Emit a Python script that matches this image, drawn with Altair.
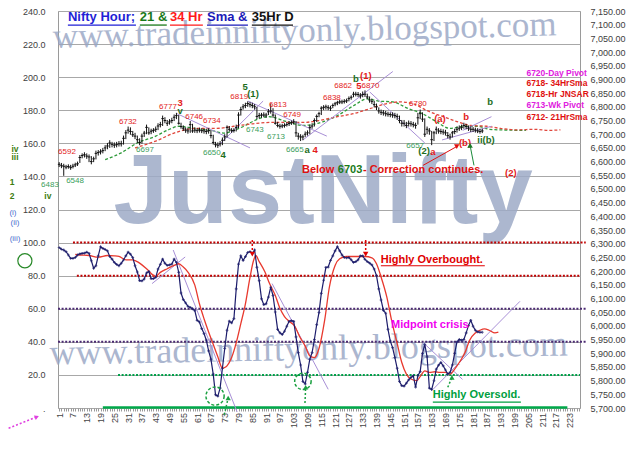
import altair as alt
import pandas as pd

# ---------------- hourly bars 1..185 (right axis) ----------------
close = [6590, 6585, 6583, 6580, 6582, 6578, 6583, 6588, 6592,
         6615, 6622, 6625, 6620, 6617, 6600, 6610,
         6630, 6633, 6636, 6640, 6650, 6657,
         6668, 6663, 6660, 6662, 6665, 6665,
         6685, 6705, 6715, 6710,
         6698, 6693, 6680, 6670,
         6693, 6704, 6725, 6705, 6711, 6714, 6718, 6730, 6735,
         6757, 6750, 6740, 6745, 6750, 6762, 6768,
         6740, 6728, 6722, 6715, 6712, 6735,
         6712, 6715, 6713, 6715, 6713, 6712, 6710, 6713, 6695,
         6670, 6662, 6660, 6665,
         6678, 6690, 6725, 6718, 6713, 6714, 6725,
         6770, 6790, 6800, 6805, 6812, 6808, 6805, 6800,
         6765, 6768, 6770, 6770, 6770, 6782, 6785, 6770, 6740,
         6732, 6729, 6730, 6732, 6735, 6739, 6742, 6745, 6705,
         6693, 6690, 6690, 6700, 6705, 6725,
         6730, 6750, 6765, 6775, 6795, 6798, 6800, 6797, 6795, 6805, 6811,
         6815, 6818, 6818, 6820, 6822, 6830, 6835, 6846, 6846, 6845, 6840, 6845, 6846,
         6836, 6825, 6820, 6808, 6800, 6785, 6780,
         6778, 6775, 6773, 6772, 6770, 6768, 6765, 6750, 6740,
         6740, 6732, 6740, 6738, 6735, 6732, 6760,
         6775, 6755, 6700, 6718, 6712, 6680,
         6705, 6718, 6712, 6710, 6708, 6705, 6695,
         6690, 6705, 6710, 6718, 6722, 6725, 6732, 6728, 6722, 6718, 6718, 6715, 6712, 6710, 6712]
high = [6598, 6595, 6592, 6588, 6590, 6588, 6592, 6596, 6600,
        6624, 6630, 6634, 6630, 6626, 6620, 6618,
        6640, 6642, 6645, 6650, 6660, 6668,
        6678, 6672, 6670, 6672, 6675, 6676,
        6695, 6715, 6728, 6725,
        6712, 6705, 6695, 6685,
        6702, 6712, 6735, 6725, 6720, 6722, 6728, 6740, 6745,
        6768, 6762, 6752, 6755, 6760, 6772, 6778,
        6770, 6742, 6732, 6725, 6722, 6748,
        6738, 6725, 6722, 6724, 6722, 6720, 6720, 6722, 6715,
        6698, 6672, 6670, 6675,
        6688, 6700, 6732, 6730, 6722, 6722, 6735,
        6780, 6800, 6810, 6815, 6820, 6818, 6815, 6810,
        6800, 6778, 6778, 6780, 6778, 6792, 6812, 6795, 6772,
        6745, 6738, 6738, 6740, 6744, 6748, 6750, 6755, 6748,
        6705, 6700, 6698, 6710, 6714, 6735,
        6740, 6758, 6772, 6782, 6802, 6806, 6808, 6806, 6804, 6812, 6818,
        6822, 6825, 6826, 6828, 6830, 6838, 6842, 6855, 6855, 6854, 6850, 6856, 6860,
        6848, 6838, 6830, 6822, 6812, 6798, 6790,
        6788, 6785, 6782, 6780, 6780, 6778, 6775, 6768, 6752,
        6752, 6745, 6750, 6748, 6745, 6742, 6778,
        6790, 6780, 6758, 6728, 6722, 6712,
        6712, 6728, 6722, 6720, 6718, 6716, 6708,
        6702, 6712, 6720, 6728, 6732, 6735, 6742, 6738, 6732, 6728, 6726, 6724, 6722, 6720, 6720]
low = [6580, 6576, 6548, 6572, 6574, 6570, 6575, 6580, 6584,
       6595, 6612, 6615, 6610, 6598, 6590, 6598,
       6608, 6622, 6626, 6630, 6638, 6645,
       6650, 6652, 6650, 6652, 6655, 6655,
       6662, 6682, 6702, 6698,
       6690, 6682, 6668, 6660,
       6665, 6690, 6700, 6698, 6700, 6705, 6708, 6715, 6725,
       6730, 6740, 6730, 6735, 6740, 6748, 6755,
       6735, 6720, 6712, 6705, 6702, 6705,
       6705, 6705, 6704, 6706, 6704, 6702, 6700, 6702, 6685,
       6662, 6652, 6650, 6655,
       6660, 6675, 6688, 6710, 6705, 6706, 6710,
       6722, 6768, 6790, 6795, 6800, 6798, 6795, 6790,
       6755, 6758, 6760, 6762, 6760, 6770, 6775, 6760, 6735,
       6725, 6720, 6722, 6724, 6728, 6730, 6734, 6736, 6690,
       6680, 6675, 6678, 6690, 6695, 6700,
       6720, 6728, 6745, 6762, 6770, 6788, 6790, 6788, 6785, 6795, 6802,
       6806, 6810, 6810, 6812, 6814, 6820, 6826, 6835, 6838, 6836, 6830, 6835, 6836,
       6828, 6815, 6810, 6798, 6788, 6775, 6770,
       6768, 6765, 6764, 6762, 6760, 6758, 6752, 6740, 6728,
       6728, 6722, 6728, 6728, 6725, 6720, 6735,
       6755, 6745, 6690, 6700, 6698, 6660,
       6675, 6700, 6702, 6700, 6698, 6695, 6685,
       6680, 6688, 6700, 6706, 6712, 6715, 6720, 6718, 6712, 6708, 6708, 6706, 6704, 6702, 6704]

# 21 and 34 hour SMA, read at a few bars
sma21_bar = [21, 28, 35, 43, 48, 53, 60, 67, 73, 77, 82, 86, 92, 100, 107, 113, 122, 129,
             135, 140, 146, 153, 159, 165, 171, 177, 183, 188, 196, 204]
sma21 = [6607, 6632, 6668, 6693, 6714, 6729, 6721, 6714, 6704, 6714, 6732, 6750, 6764, 6746,
         6732, 6739, 6768, 6804, 6829, 6821, 6818, 6793, 6775, 6746, 6721, 6729, 6729, 6718,
         6715, 6714]
sma34_bar = [34, 43, 51, 60, 69, 77, 86, 93, 100, 107, 114, 122, 129, 136, 143, 149, 155, 161,
             168, 174, 180, 187, 193, 200, 208, 214, 219]
sma34 = [6650, 6675, 6704, 6721, 6721, 6729, 6739, 6743, 6743, 6743, 6750, 6764, 6775, 6793,
         6811, 6818, 6811, 6786, 6764, 6746, 6732, 6729, 6721, 6716, 6718, 6714, 6716]

# ---------------- oscillator (left axis) ----------------
osc = [97, 96, 95.5, 94.5, 92.5, 90.5, 90.5, 91, 92.5, 93.2,
       93.5, 93.6, 94.2, 93.5, 89, 84.5, 86, 92, 97.5, 96.5,
       95.8, 95, 91.6, 90, 88, 86.8, 86, 87.5, 89.5, 92,
       94.2, 93, 91, 86, 82.2, 77, 76.8, 78, 81.6, 82.5,
       78.2, 78.2, 79, 84, 86.8, 90, 87.5, 86.2, 86.5, 87,
       90, 88, 82, 69.5, 65.5, 63.5, 61.5, 60.8, 60, 58.9,
       53, 52, 48, 45, 41, 34.5, 29.5, 20.5, 8, 7.2,
       12, 24, 36, 47, 52.5, 51.5, 54, 72, 87, 92,
       89.2, 91.5, 94, 94.5, 93.5, 95.5, 85, 77, 66, 62.5,
       63, 67, 73, 68, 58, 47.5, 45.5, 44.4, 46.4, 49.4,
       52.4, 52.8, 52.4, 43, 33.5, 26, 16, 14.6, 21.5, 29.5,
       33.5, 41.4, 50.4, 57.7, 69.3, 77.2, 85, 85.2, 89.2, 92,
       95, 97.5, 95, 92.5, 91, 90.8, 91, 89.6, 88, 88.5,
       89.6, 92, 92, 89.8, 88.5, 87.6, 86.5, 84, 80, 72,
       65.3, 59, 57.3, 47.5, 40.5, 36.5, 30.5, 24, 16, 13.5,
       13.2, 15, 17, 18.5, 19.5, 12.6, 19.5, 22, 33, 38.4,
       31, 12, 11.2, 16.5, 23.5, 25.9, 27.5, 25.5, 23, 20.5,
       21.5, 26, 33, 40, 41.4, 41, 41.4, 45.4, 49.8, 53,
       49.4, 47, 46, 45.8, 45.8]
osc_ma_bar = [8, 10, 14, 18, 22, 25, 27, 30, 33, 36, 39, 42, 43, 45, 48, 51, 53, 55, 57, 60,
              62, 64, 66, 68, 70, 72, 73, 74, 76, 78, 80, 82, 84, 85.5, 86.5, 88, 90.5, 92.5, 95, 97,
              99, 101, 103.5, 105.5, 108, 110, 112, 114, 116.5, 118.5, 121, 123, 126, 128, 131, 134,
              137, 139, 141, 143.5, 145.5, 148, 150, 152, 154, 156.5, 158, 160, 162, 164.5, 166.5,
              169, 171, 173, 175, 177.5, 179.5, 182, 184, 186, 188, 190.5, 192]
osc_ma = [92.8, 92.5, 92.2, 91.2, 92.2, 92, 91.6, 89.6, 89.6, 87.6, 84.2, 80.2, 79.6, 82, 84.2,
          86.2, 87.2, 85.2, 82.2, 74.3, 63, 54, 46, 38.5, 31, 24, 24.5, 25.5, 30.5, 39.4, 51, 63,
          79, 89, 92.2, 88.5, 82.2, 75.2, 68, 60.3, 55.3, 52.4, 49.4, 43.4, 37.4, 31.5, 30.5, 36,
          53.4, 73, 86.2, 90.2, 91.6, 91.6, 91.6, 91.6, 90.8, 87.2, 79.2, 67, 53.4, 39, 27.5, 20.5,
          17.5, 16.5, 19, 22.5, 21.5, 21.9, 21.5, 21.5, 20.5, 23.5, 27.5, 33.5, 41, 45.4, 47, 47.8,
          47, 45.4, 45.8]

# oscillator zones: value, first bar, last bar
level_val = [100, 80, 60, 40, 20]
level_from = [7, 8.7, 0.5, 0.5, 26.6]
level_to = [230, 227.5, 230, 230, 227.5]

# hand drawn trend lines (bar, value) -> (bar, value)
osc_trend = [(50.6, 95.5, 78.4, -2.4), (41.4, 75.2, 55.8, 91.3), (93.6, 75.2, 118, 11.3),
             (159.4, 39.4, 176.4, 17.3), (163.6, 11.3, 201.4, 64.5)]
price_trend = [(52.3, 6775, 84, 6650), (70.1, 6657, 89.7, 6821), (83.1, 6821, 117.4, 6693),
               (107, 6679, 146.1, 6929), (136.1, 6854, 160, 6668),
               (167.5, 6679, 189, 6729), (176.5, 6714, 189, 6764)]

# wave labels (text, bar, price)
red_labels = [("6592", 4.4, 6636), ("6732", 30.9, 6746), ("6777", 48.3, 6800),
              ("6746", 59.7, 6764), ("6734", 67.4, 6750), ("6819", 79.3, 6836),
              ("6813", 96.1, 6807), ("6749", 102.3, 6771), ("6838", 119.6, 6832),
              ("6862", 124.5, 6875), ("6870", 136.4, 6875), ("6780", 157, 6811)]
green_labels = [("6548", 7.9, 6529), ("6483", -3, 6514), ("6697", 38.3, 6643),
                ("6650", 67.4, 6632), ("6743", 86.1, 6714), ("6713", 95.3, 6689),
                ("6665", 103.5, 6643), ("6657", 155.8, 6657)]
red_waves = [("3", 53.6, 6814), ("4", 112.3, 6643), ("5", 131.4, 6875), ("(1)", 134.4, 6914),
             ("(a)", 166.6, 6754), ("b", 178, 6764), ("a", 163.5, 6636), ("(b)", 177.5, 6668),
             ("(2)", 197.4, 6557)]
green_waves = [("v", 53.6, 6786), ("4", 72.3, 6625), ("5", 81.9, 6871), ("(1)", 85.3, 6846),
               ("a", 108.8, 6643), ("b", 130, 6900), ("b", 188.4, 6818), ("(2)", 159.7, 6639),
               ("ii(b)", 186.6, 6679)]
side_green = [("iv", -18.2, 6646), ("iii", -18.2, 6618), ("1", -19.5, 6525), ("2", -19.5, 6475),
              ("iv", -3.9, 6475)]
side_blue = [("(i)", -19.1, 6414), ("(ii)", -18.2, 6375), ("(iii)", -18.2, 6318)]

levels_right = [("6720-Day Pivot", 6925, "m"), ("6718- 34HrSma", 6886, "r"),
                ("6718-Hr JNSAR", 6846, "r"), ("6713-Wk Pivot", 6807, "m"),
                ("6712- 21HrSma", 6764, "r")]

title_parts = [("Nifty Hour;", 4.8, 34.4), ("21 &", 36.1, 47.8), ("34 Hr", 49.2, 63.5),
               ("Sma &", 65.3, 83.1), ("35Hr D", 84.8, 102.7)]
site = "www.tradeinniftyonly.blogspot.com"

# ---------------- scales / axes ----------------
xs = alt.Scale(domain=[0.5, 227.5], nice=False, zero=False)
x_axis = alt.Axis(values=list(range(1, 228)), format="d",
                  labelExpr="(datum.value - 1) % 6 == 0 ? datum.label : ''",
                  labelAngle=270, labelAlign="right", labelBaseline="middle",
                  labelFontSize=9, labelColor="#444444", labelPadding=1.5,
                  labelOverlap=False, labelFlush=False,
                  tickSize=3, tickColor="#9a9a9a", domain=False, grid=False, title=None)
left_scale = alt.Scale(domain=[0, 240], nice=False)
left_axis = alt.Axis(values=list(range(0, 241, 20)), orient="left",
                     labelExpr="datum.value == 0 ? '.' : format(datum.value, '.1f')",
                     grid=True, gridColor="#a8a8a8", ticks=False, domain=False,
                     labelPadding=13, labelFontSize=9, labelColor="#404040",
                     labelOverlap=False, title=None)
right_scale = alt.Scale(domain=[5700, 7150], nice=False, zero=False)
right_axis = alt.Axis(values=list(range(5700, 7151, 50)), orient="right", format=",.2f",
                      grid=False, ticks=False, domain=False, labelPadding=10,
                      labelFontSize=9, labelColor="#404040", labelOverlap=False, title=None)


def X(f="bar"):
    return alt.X(f"{f}:Q", scale=xs, axis=x_axis)


def YL(f="v"):
    return alt.Y(f"{f}:Q", scale=left_scale, axis=left_axis)


def YR(f="p"):
    return alt.Y(f"{f}:Q", scale=right_scale, axis=right_axis)


def one(**kw):
    return pd.DataFrame({k: [v] for k, v in kw.items()})


RED, GREEN, DKGREEN, NAVY, LAV = "#e31b1b", "#3a9e5c", "#1d6e1d", "#1c1c6b", "#a88fd6"

# ---------------- left (oscillator) group ----------------
wm_top = alt.Chart(one(bar=107.9, v=221.5, t=site)).mark_text(
    font="Liberation Serif", fontSize=35, color="#97a5c4", opacity=0.8, angle=358.6,
    align="center", baseline="alphabetic").encode(x=X(), y=YL(), text="t:N")
wm_bot = alt.Chart(one(bar=109.6, v=29, t=site)).mark_text(
    font="Liberation Serif", fontSize=36, color="#97a5c4", opacity=0.8, angle=359,
    align="center", baseline="alphabetic").encode(x=X(), y=YL(), text="t:N")
wm_big = alt.Chart(one(bar=115.8, v=112, t="JustNifty")).mark_text(
    font="Liberation Sans", fontWeight="bold", fontSize=98, color="#9eabc7",
    opacity=0.85, align="center", baseline="alphabetic").encode(x=X(), y=YL(), text="t:N")

lev_df = pd.DataFrame({"v": level_val, "bar": level_from, "bar2": level_to,
                       "c": ["#c00000", "#c00000", "#4b2a72", "#4b2a72", "#00a04a"]})
levels = alt.Chart(lev_df).mark_rule(strokeDash=[2, 1.6], strokeWidth=2).encode(
    x=X(), x2="bar2:Q", y=YL(), color=alt.Color("c:N", scale=None))
base_line = alt.Chart(one(bar=20, bar2=222, v=0.3)).mark_rule(
    color="#00a84a", strokeWidth=2.5).encode(x=X(), x2="bar2:Q", y=YL())

ot_df = pd.DataFrame(osc_trend, columns=["bar", "v", "bar2", "v2"])
osc_tr = alt.Chart(ot_df).mark_rule(color=LAV, strokeWidth=1).encode(
    x=X(), x2="bar2:Q", y=YL(), y2="v2:Q")

ma_df = pd.DataFrame({"bar": osc_ma_bar, "v": osc_ma})
ma_line = alt.Chart(ma_df).mark_line(color="#e8392e", strokeWidth=1.3,
                                     interpolate="monotone").encode(x=X(), y=YL())
osc_df = pd.DataFrame({"bar": list(range(1, len(osc) + 1)), "v": osc})
osc_line = alt.Chart(osc_df).mark_line(color=NAVY, strokeWidth=1.2).encode(x=X(), y=YL())
osc_pts = alt.Chart(osc_df).mark_point(shape="cross", filled=True, size=8,
                                       color=NAVY).encode(x=X(), y=YL())

red_arr = pd.DataFrame({"bar": [85, 134.3], "v": [101.5, 101.5], "v2": [93, 93]})
red_arr_l = alt.Chart(red_arr).mark_rule(color="#e00000", strokeDash=[2, 2], strokeWidth=1.5).encode(
    x=X(), y=YL(), y2="v2:Q")
red_arr_h = alt.Chart(red_arr).mark_point(shape="triangle-down", filled=True, size=30,
                                          color="#e00000", opacity=1).encode(x=X(), y=YL("v2"))
grn_arr = pd.DataFrame({"bar": [72.8, 107.9, 170], "v": [-4, 3, 12.5],
                        "bar2": [74.5, 108.2, 171.8], "v2": [6, 12.5, 18.5]})
grn_arr_l = alt.Chart(grn_arr).mark_rule(color="#1aa040", strokeDash=[2, 2], strokeWidth=1.5).encode(
    x=X(), x2="bar2:Q", y=YL(), y2="v2:Q")
grn_arr_h = alt.Chart(grn_arr).mark_point(shape="triangle-up", filled=True, size=28,
                                          color="#1aa040", opacity=1).encode(x=X("bar2"), y=YL("v2"))
circ = alt.Chart(pd.DataFrame({"bar": [68.8, 107], "v": [7.2, 16.1], "s": [330, 270]})).mark_point(
    shape="circle", filled=False, color="#1aa040", strokeWidth=1.5, strokeDash=[3, 2],
    opacity=1).encode(x=X(), y=YL(), size=alt.Size("s:Q", scale=None))
ellipse = alt.Chart(one(bar=-13.9, v=89)).mark_point(
    shape="circle", filled=False, color="#2a8a2a", size=200, strokeWidth=1.2,
    opacity=1).encode(x=X(), y=YL())
pink = alt.Chart(one(bar=-22.6, v=-13.1, bar2=-8.7, v2=-5.4)).mark_rule(
    color="#e040e0", strokeDash=[2, 2], strokeWidth=1.5).encode(x=X(), x2="bar2:Q", y=YL(), y2="v2:Q")
pink_h = alt.Chart(one(bar=-8.7, v=-5.4)).mark_point(
    shape="triangle-right", filled=True, size=25, color="#e040e0", angle=338,
    opacity=1).encode(x=X(), y=YL())

ann_df = pd.DataFrame({"bar": [140.9, 145.3, 163.5], "v": [89.6, 50.1, 7.8],
                       "t": ["Highly Overbought.", "Midpoint crisis", "Highly Oversold."],
                       "c": ["#e00000", "#f000f0", "#00a040"]})
ann = alt.Chart(ann_df).mark_text(fontSize=11, fontWeight="bold", align="left",
                                  baseline="middle").encode(
    x=X(), y=YL(), text="t:N", color=alt.Color("c:N", scale=None))
ul_df = pd.DataFrame({"bar": [140.9, 163.5], "bar2": [186.1, 201.8], "v": [86, 3.6],
                      "c": ["#e00000", "#00a040"]})
ann_ul = alt.Chart(ul_df).mark_rule(strokeWidth=1.2).encode(
    x=X(), x2="bar2:Q", y=YL(), color=alt.Color("c:N", scale=None))

t_df = pd.DataFrame(title_parts, columns=["t", "bar", "bar2"])
t_df["v"] = 236.4
t_df["vu"] = 231.5
t_df["c"] = ["#1f1fd6", "#1a7a1a", "#ff1a1a", "#1a1ab8", "#111111"]
title_txt = alt.Chart(t_df).mark_text(fontSize=13, fontWeight="bold", align="left",
                                      baseline="middle").encode(
    x=X(), y=YL(), text="t:N", color=alt.Color("c:N", scale=None))
title_ul = alt.Chart(t_df).mark_rule(strokeWidth=1.3).encode(
    x=X(), x2="bar2:Q", y=YL("vu"), color=alt.Color("c:N", scale=None))

left = alt.layer(wm_top, wm_bot, wm_big, levels, base_line, osc_tr, ma_line, osc_line, osc_pts,
                 red_arr_l, red_arr_h, grn_arr_l, grn_arr_h, circ, ellipse, pink, pink_h,
                 ann, ann_ul, title_txt, title_ul)

# ---------------- right (price) group ----------------
px_df = pd.DataFrame({"bar": list(range(1, len(close) + 1)), "p": close, "hi": high, "lo": low})
bars_hl = alt.Chart(px_df).mark_rule(color="#111111", strokeWidth=1).encode(
    x=X(), y=YR("lo"), y2="hi:Q")
bars_c = alt.Chart(px_df).mark_tick(orient="horizontal", size=2.6, thickness=1,
                                    color="#111111", opacity=1).encode(x=X(), y=YR())

s21 = alt.Chart(pd.DataFrame({"bar": sma21_bar, "p": sma21})).mark_line(
    color="#2f9a3a", strokeDash=[3, 2], strokeWidth=1.3, interpolate="monotone").encode(x=X(), y=YR())
s34 = alt.Chart(pd.DataFrame({"bar": sma34_bar, "p": sma34})).mark_line(
    color="#e0463c", strokeDash=[3, 2], strokeWidth=1.3, interpolate="monotone").encode(x=X(), y=YR())

pt_df = pd.DataFrame(price_trend, columns=["bar", "p", "bar2", "p2"])
px_tr = alt.Chart(pt_df).mark_rule(color=LAV, strokeWidth=1).encode(
    x=X(), x2="bar2:Q", y=YR(), y2="p2:Q")


def label_layer(rows, color, size, weight="normal", align="center"):
    d = pd.DataFrame(rows, columns=["t", "bar", "p"])
    return alt.Chart(d).mark_text(color=color, fontSize=size, fontWeight=weight,
                                  align=align, baseline="middle").encode(x=X(), y=YR(), text="t:N")


lab_r = label_layer(red_labels, RED, 8)
lab_g = label_layer(green_labels, GREEN, 8)
wav_r = label_layer(red_waves, RED, 9.5, "bold")
wav_g = label_layer(green_waves, DKGREEN, 9.5, "bold")
side_g = label_layer(side_green, "#3d7d10", 8.5, "bold")
side_b = label_layer(side_blue, "#4a6fcf", 8)

lv_df = pd.DataFrame(levels_right, columns=["t", "p", "k"])
lv_df["bar"] = 204.2
lv_df["c"] = lv_df["k"].map({"m": "#e020e0", "r": "#e01010"})
lv_txt = alt.Chart(lv_df).mark_text(fontSize=8.5, fontWeight="bold", align="left",
                                    baseline="middle").encode(
    x=X(), y=YR(), text="t:N", color=alt.Color("c:N", scale=None))

msg_df = pd.DataFrame({"t": ["Below", "6703", "- Correction continues."],
                       "bar": [106.6, 122.2, 133.1], "p": [6568, 6568, 6568],
                       "c": ["#e01010", "#1a7a1a", "#e01010"]})
msg = alt.Chart(msg_df).mark_text(fontSize=11, fontWeight="bold", align="left",
                                  baseline="middle").encode(
    x=X(), y=YR(), text="t:N", color=alt.Color("c:N", scale=None))

arr_df = pd.DataFrame({"bar": [159.2, 181.4], "p": [6586, 6586], "bar2": [173.9, 179.7],
                       "p2": [6655, 6659], "c": ["#e01010", "#1a8a3a"]})
arr_l = alt.Chart(arr_df).mark_rule(strokeWidth=1).encode(
    x=X(), x2="bar2:Q", y=YR(), y2="p2:Q", color=alt.Color("c:N", scale=None))
arr_r = alt.Chart(arr_df.iloc[[0]]).mark_point(shape="triangle-down", filled=True, size=30,
                                               color="#e01010", opacity=1).encode(x=X("bar2"), y=YR("p2"))
arr_g = alt.Chart(arr_df.iloc[[1]]).mark_point(shape="triangle-up", filled=True, size=30,
                                               color="#1a7a2a", opacity=1).encode(x=X("bar2"), y=YR("p2"))

right = alt.layer(s21, s34, px_tr, bars_hl, bars_c, lab_r, lab_g, wav_r, wav_g, side_g, side_b,
                  lv_txt, msg, arr_l, arr_r, arr_g)

chart = alt.layer(left, right).resolve_scale(y="independent").properties(
    width=522, height=397,
    padding={"left": 50, "top": 3, "right": 52, "bottom": 51},
    autosize=alt.AutoSizeParams(type="none"),
).configure(font="Liberation Sans", background="#ffffff").configure_view(
    stroke="#9a9a9a", strokeWidth=1
).configure_axis(labelFont="Liberation Sans")

chart.save("out.html", embed_options={"renderer": "svg", "actions": False})
